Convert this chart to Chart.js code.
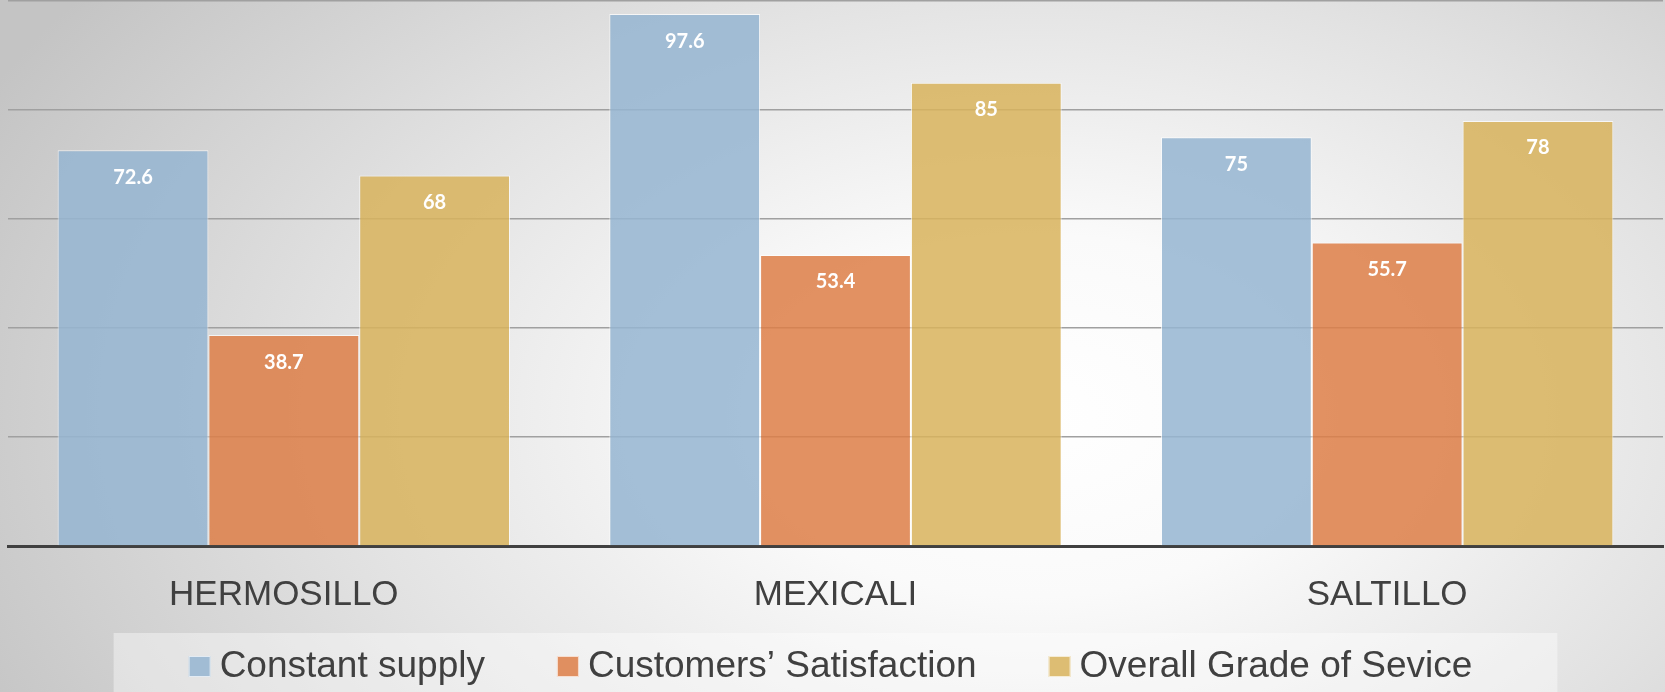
<!DOCTYPE html>
<html>
<head>
<meta charset="utf-8">
<script src="https://cdn.jsdelivr.net/npm/chart.js@4/dist/chart.umd.min.js"></script>
<style>
  html, body { margin: 0; padding: 0; }
  body {
    width: 1665px; height: 692px; overflow: hidden;
    background: radial-gradient(ellipse 70% 105% at 62% 60%, #ffffff 0%, #fafafa 25%, #e2e2e2 60%, #c4c4c4 100%);
  }
  #wrap { position: relative; width: 1665px; height: 692px; }
</style>
</head>
<body>
<div id="wrap"><canvas id="chart"></canvas></div>
<script>
// city categories and the three survey series
const cities = ['HERMOSILLO', 'MEXICALI', 'SALTILLO'];
const constantSupply = [72.6, 97.6, 75];
const customersSatisfaction = [38.7, 53.4, 55.7];
const overallGrade = [68, 85, 78];
const seriesNames = ['Constant supply', 'Customers\u2019 Satisfaction', 'Overall Grade of Sevice'];

const FONT = '"Liberation Sans", Arial, sans-serif';

// white value labels near the top of each bar
const barLabels = {
  id: 'barLabels',
  afterDatasetsDraw(chart) {
    const ctx = chart.ctx;
    ctx.save();
    ctx.fillStyle = '#ffffff';
    ctx.font = 'bold 20px Lato, "DejaVu Sans", sans-serif';
    ctx.textAlign = 'center';
    ctx.textBaseline = 'middle';
    chart.data.datasets.forEach((ds, i) => {
      chart.getDatasetMeta(i).data.forEach((bar, j) => {
        ctx.fillText(String(ds.data[j]), bar.x, bar.y + 27);
      });
    });
    ctx.restore();
  }
};

// legend drawn by hand: light panel, small squares, wide gaps between entries
const panelLegend = {
  id: 'panelLegend',
  afterDraw(chart) {
    const ctx = chart.ctx;
    const box = 22, gapText = 9, gapItem = 72;
    ctx.save();
    ctx.font = '37px ' + FONT;
    const items = chart.data.datasets.map(ds => ({
      text: ds.label, color: ds.backgroundColor, w: ctx.measureText(ds.label).width
    }));
    const total = items.reduce((s, it) => s + box + gapText + it.w, 0) + gapItem * (items.length - 1);
    let x = chart.width / 2 - 2 - total / 2;
    const cy = 666;

    ctx.globalCompositeOperation = 'destination-over';
    ctx.fillStyle = 'rgba(255,255,255,0.4)';
    ctx.fillRect(x - 75, 633, total + 160, chart.height - 633);
    ctx.globalCompositeOperation = 'source-over';

    ctx.textBaseline = 'middle';
    ctx.textAlign = 'left';
    items.forEach(it => {
      ctx.fillStyle = it.color;
      ctx.fillRect(x, cy - 10, box, 21);
      ctx.strokeStyle = 'rgba(255,255,255,0.7)';
      ctx.lineWidth = 1;
      ctx.strokeRect(x + 0.5, cy - 9.5, box - 1, 20);
      x += box + gapText;
      ctx.fillStyle = '#404040';
      ctx.fillText(it.text, x, cy + 1);
      x += it.w + gapItem;
    });
    ctx.restore();
  }
};

new Chart(document.getElementById('chart'), {
  type: 'bar',
  data: {
    labels: cities,
    datasets: [
      { label: seriesNames[0], data: constantSupply, backgroundColor: 'rgba(149,181,209,0.85)' },
      { label: seriesNames[1], data: customersSatisfaction, backgroundColor: 'rgba(221,126,71,0.85)' },
      { label: seriesNames[2], data: overallGrade, backgroundColor: 'rgba(216,179,92,0.85)' }
    ].map(d => Object.assign(d, {
      borderColor: 'rgba(255,255,255,0.7)',
      borderWidth: 1,
      barPercentage: 1,
      categoryPercentage: 0.82
    }))
  },
  options: {
    responsive: true,
    maintainAspectRatio: false,
    animation: false,
    layout: { padding: { top: 1, left: 8, right: 2, bottom: 52 } },
    plugins: {
      tooltip: { enabled: false },
      legend: { display: false }
    },
    scales: {
      x: {
        grid: { display: false, drawTicks: false },
        border: { display: true, color: '#404040', width: 3 },
        ticks: { color: '#404040', font: { family: FONT, size: 35 }, padding: 28 },
        afterFit(scale) { scale.height = 94; }
      },
      y: {
        min: 0,
        max: 100,
        ticks: { display: false, stepSize: 20 },
        grid: { color: '#a0a0a0', lineWidth: 1.5, drawTicks: false },
        border: { display: false }
      }
    }
  },
  plugins: [panelLegend, barLabels]
});
</script>
</body>
</html>
